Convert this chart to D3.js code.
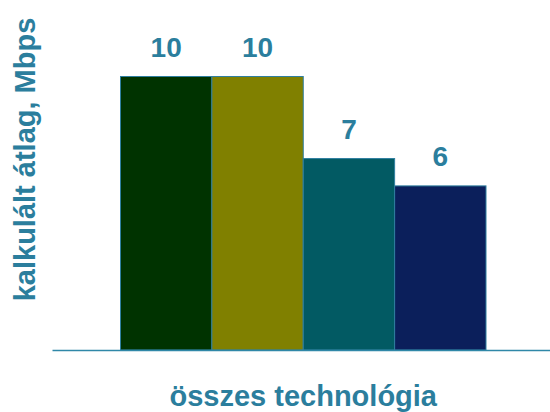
<!DOCTYPE html>
<html>
<head>
<meta charset="utf-8">
<script src="https://cdn.jsdelivr.net/npm/d3@7/dist/d3.min.js"></script>
<style>
  html, body { margin: 0; padding: 0; background: #ffffff; }
  svg { display: block; }
</style>
</head>
<body>
<script>
const category = "összes technológia";
const series = ["Sorozat 1", "Sorozat 2", "Sorozat 3", "Sorozat 4"];
const values = [10, 10, 7, 6];
const colors = ["#003300", "#808000", "#025a63", "#0b1f5b"];
const yTitle = "kalkulált átlag, Mbps";

const W = 550, H = 412;
const textColor = "#2b7e9d";
const font = "'Liberation Sans', Arial, Helvetica, sans-serif";

const svg = d3.select("body").append("svg")
  .attr("width", W).attr("height", H);

const x = d3.scaleBand().domain(series).range([120.5, 486]).padding(0);
const y = d3.scaleLinear().domain([0, 10]).range([350, 76.5]);

// bars
svg.append("g").selectAll("rect")
  .data(series)
  .join("rect")
  .attr("x", d => x(d))
  .attr("y", (d, i) => y(values[i]))
  .attr("width", x.bandwidth())
  .attr("height", (d, i) => y(0) - y(values[i]))
  .attr("fill", (d, i) => colors[i])
  .attr("stroke", "#2f7f9f")
  .attr("stroke-width", 1);

// baseline axis
const xAxis = d3.axisBottom(d3.scaleLinear().domain([0, 1]).range([52, 550]))
  .tickValues([]).tickSizeOuter(0);
const ax = svg.append("g").attr("transform", `translate(0,${y(0)})`).call(xAxis);
ax.select(".domain").attr("stroke", "#3088a8").attr("stroke-width", 1.5);

// value labels
svg.append("g").selectAll("text")
  .data(series)
  .join("text")
  .attr("x", d => x(d) + x.bandwidth() / 2)
  .attr("y", (d, i) => y(values[i]) - 19.5)
  .attr("text-anchor", "middle")
  .attr("font-family", font)
  .attr("font-weight", "bold")
  .attr("font-size", 28)
  .attr("fill", textColor)
  .text((d, i) => values[i]);

// x title
svg.append("text")
  .attr("x", (x.range()[0] + x.range()[1]) / 2)
  .attr("y", 406)
  .attr("text-anchor", "middle")
  .attr("font-family", font)
  .attr("font-weight", "bold")
  .attr("font-size", 29)
  .attr("fill", textColor)
  .text(category);

// y title
svg.append("text")
  .attr("transform", "translate(35,159.5) rotate(-90)")
  .attr("text-anchor", "middle")
  .attr("font-family", font)
  .attr("font-weight", "bold")
  .attr("font-size", 29)
  .attr("fill", textColor)
  .text(yTitle);
</script>
</body>
</html>
